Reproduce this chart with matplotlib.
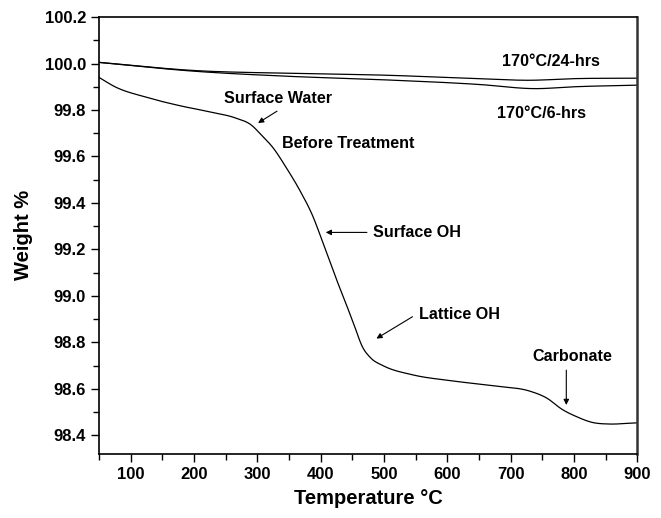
import matplotlib
matplotlib.use("Agg")
import matplotlib.pyplot as plt
from matplotlib.ticker import MultipleLocator
import numpy as np

plt.rcParams['font.family'] = ['Liberation Sans', 'DejaVu Sans']
plt.rcParams['font.weight'] = 'bold'

# TGA curves (temperature in deg C, weight %)
temp_before = [50, 75, 123, 175, 228, 265, 291, 307, 324, 346, 367, 388, 402, 425,
               438, 452, 466, 480, 498, 545, 604, 682, 730, 757, 782, 804, 829, 856, 891, 900]
weight_before = [99.94, 99.90, 99.856, 99.82, 99.79, 99.766, 99.734, 99.69, 99.64, 99.55,
                 99.454, 99.34, 99.24, 99.07, 98.98, 98.88, 98.78, 98.73, 98.70, 98.66,
                 98.635, 98.61, 98.59, 98.56, 98.51, 98.48, 98.455, 98.448, 98.452, 98.453]

temp_24h = [50, 200, 350, 500, 650, 730, 800, 900]
weight_24h = [100.005, 99.97, 99.958, 99.95, 99.935, 99.928, 99.935, 99.937]

temp_6h = [50, 200, 350, 500, 650, 740, 800, 900]
weight_6h = [100.005, 99.967, 99.945, 99.93, 99.91, 99.892, 99.90, 99.907]


def smooth(x, y, n=400):
    # cubic hermite through the read-off points
    x = np.asarray(x, float)
    y = np.asarray(y, float)
    xs = np.linspace(x[0], x[-1], n)
    d = np.gradient(y, x)
    idx = np.clip(np.searchsorted(x, xs) - 1, 0, len(x) - 2)
    h = x[idx + 1] - x[idx]
    t = (xs - x[idx]) / h
    h00 = 2 * t**3 - 3 * t**2 + 1
    h10 = t**3 - 2 * t**2 + t
    h01 = -2 * t**3 + 3 * t**2
    h11 = t**3 - t**2
    ys = h00 * y[idx] + h10 * h * d[idx] + h01 * y[idx + 1] + h11 * h * d[idx + 1]
    return xs, ys


fig = plt.figure(figsize=(6.61, 5.18), dpi=100)
ax = fig.add_axes([0.150, 0.124, 0.814, 0.843])

for tx, wy in [(temp_before, weight_before), (temp_24h, weight_24h), (temp_6h, weight_6h)]:
    xs, ys = smooth(tx, wy)
    ax.plot(xs, ys, color='black', lw=0.9)

ax.set_xlim(50, 900)
ax.set_ylim(98.32, 100.2)
ax.xaxis.set_minor_locator(MultipleLocator(50))
ax.yaxis.set_minor_locator(MultipleLocator(0.1))
ax.set_xticks(np.arange(100, 901, 100))
ax.set_yticks(np.round(np.arange(98.4, 100.21, 0.2), 1))
ax.yaxis.set_major_formatter(plt.FormatStrFormatter('%.1f'))
ax.tick_params(which='both', direction='out', top=False, right=False, width=1.0)
ax.tick_params(which='major', length=6, labelsize=12)
ax.tick_params(which='minor', length=4)
for lbl in ax.get_xticklabels() + ax.get_yticklabels():
    lbl.set_fontweight('bold')
for sp in ax.spines.values():
    sp.set_linewidth(1.2)
ax.spines['right'].set_linewidth(1.8)
ax.spines['right'].set_color('#333333')

ax.set_xlabel('Temperature \u00b0C', fontsize=14.5, fontweight='bold', labelpad=5)
ax.set_ylabel('Weight %', fontsize=14.5, fontweight='bold', labelpad=8)

fs = 11.6
ax.text(763, 100.01, '170\u00b0C/24-hrs', fontsize=fs, ha='center', va='center')
ax.text(749, 99.786, '170\u00b0C/6-hrs', fontsize=fs, ha='center', va='center')
ax.text(444, 99.657, 'Before Treatment', fontsize=fs, ha='center', va='center')
ax.text(332, 99.85, 'Surface Water', fontsize=fs, ha='center', va='center')
ax.text(482, 99.273, 'Surface OH', fontsize=fs, ha='left', va='center')
ax.text(619, 98.92, 'Lattice OH', fontsize=fs, ha='center', va='center')
ax.text(798, 98.74, 'Carbonate', fontsize=fs, ha='center', va='center')

arrow = dict(arrowstyle='-|>', color='black', lw=0.8, mutation_scale=8,
             shrinkA=0, shrinkB=0)
ax.annotate('', xy=(301, 99.744), xytext=(331, 99.795), arrowprops=arrow)
ax.annotate('', xy=(408, 99.273), xytext=(473, 99.273), arrowprops=arrow)
ax.annotate('', xy=(488, 98.816), xytext=(545, 98.91), arrowprops=arrow)
ax.annotate('', xy=(788, 98.53), xytext=(788, 98.68), arrowprops=arrow)

fig.savefig('out.png', dpi=100)
